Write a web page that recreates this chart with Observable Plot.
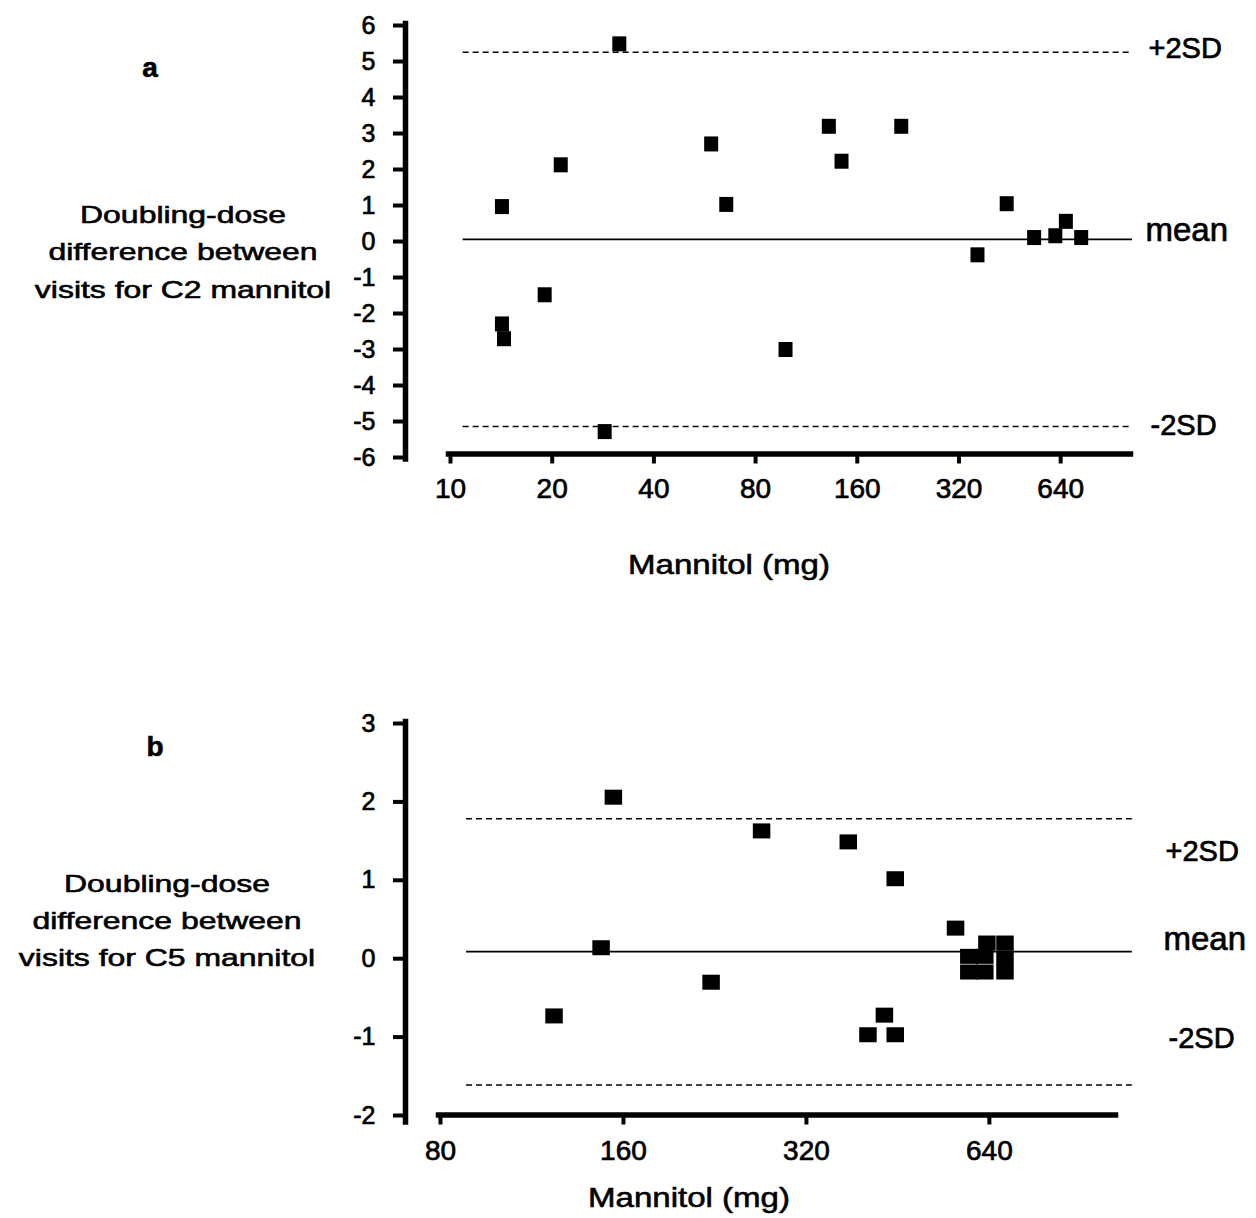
<!DOCTYPE html>
<html>
<head>
<meta charset="utf-8">
<script src="https://cdn.jsdelivr.net/npm/d3@7"></script>
<script src="https://cdn.jsdelivr.net/npm/@observablehq/plot@0.6"></script>
<style>
  body { margin: 0; background: #fff; }
  #root { position: relative; width: 1256px; height: 1218px; overflow: hidden;
          font-family: "Liberation Sans", Arial, sans-serif; color: #000; background: #fff; }
  #root svg { position: absolute; left: 0; }
  #root svg text { stroke: #000; stroke-width: 0.7px; paint-order: stroke; }
  .lbl { position: absolute; white-space: nowrap; line-height: 1; text-align: center; width: 500px;
         -webkit-text-stroke: 0.6px #000; }
</style>
</head>
<body>
<div id="root"></div>
<script>
// ---------- Panel a: C2 mannitol ----------
const c2Dose = [14.2, 21.2, 31.6, 59.1, 65.5, 19.0, 14.2, 14.4, 98.1, 28.6, 131.8, 143.7, 215.9, 363, 443, 534, 617, 663, 736];
const c2Diff = [0.97, 2.13, 5.49, 2.71, 1.03, -1.48, -2.29, -2.70, -3.00, -5.28, 3.20, 2.23, 3.20, -0.37, 1.05, 0.11, 0.16, 0.56, 0.11];
const c2Lines = [5.26, 0.06, -5.14];            // +2SD, mean, -2SD
const c2LineSpan = [10.9, 1044];                // mg extent of the reference lines
const c2XDomain = [10, 1030];
const c2YDomain = [-6, 6];
const c2XTicks = [10, 20, 40, 80, 160, 320, 640];
const c2YTicks = [6, 5, 4, 3, 2, 1, 0, -1, -2, -3, -4, -5, -6];

// ---------- Panel b: C5 mannitol ----------
const c5Dose = [154, 270, 147, 223, 123, 375, 448, 563, 430, 404, 448, 592, 592, 629, 629, 634, 679, 679, 679];
const c5Diff = [2.06, 1.63, 0.14, -0.30, -0.73, 1.49, 1.02, 0.39, -0.72, -0.97, -0.97, -0.17, 0.03, -0.17, 0.03, 0.20, 0.20, 0.01, -0.17];
const c5Lines = [1.785, 0.09, -1.61];           // +2SD, mean, -2SD
const c5LineSpan = [88.3, 1100];
const c5XDomain = [80, 1032];
const c5YDomain = [-2, 3];
const c5XTicks = [80, 160, 320, 640];
const c5YTicks = [3, 2, 1, 0, -1, -2];

const lineLabels = ["+2SD", "mean", "-2SD"];
const panelLetters = ["a", "b"];
const yTitleC2 = ["Doubling-dose", "difference between", "visits for C2 mannitol"];
const yTitleC5 = ["Doubling-dose", "difference between", "visits for C5 mannitol"];
const xTitle = "Mannitol (mg)";

// ---------- drawing ----------
const FONT = '"Liberation Sans", Arial, sans-serif';
const root = document.getElementById("root");
const rectSymbol = (w, h) => ({ draw(ctx) { ctx.rect(-w / 2, -h / 2, w, h); } });
const fmt = d => String(d);

function panel(cfg) {
  const pts = cfg.dose.map((d, i) => ({ dose: d, diff: cfg.diff[i] }));
  const labs = lineLabels.map((t, i) => ({ label: t, y: cfg.lines[i] }));
  const svg = Plot.plot({
    width: 1256, height: cfg.height,
    marginTop: cfg.mt, marginBottom: cfg.mb, marginLeft: 405, marginRight: cfg.mr,
    style: { fontFamily: FONT, color: "#000", background: "transparent", overflow: "visible" },
    x: { type: "log", base: 2, domain: cfg.xDomain, range: cfg.xRange },
    y: { domain: cfg.yDomain, range: cfg.yRange },
    marks: [
      Plot.frame({ anchor: "left", stroke: "#000", strokeWidth: 5.5, insetTop: -2, insetBottom: cfg.ib }),
      Plot.frame({ anchor: "bottom", stroke: "#000", strokeWidth: 5.5, insetLeft: cfg.il }),
      Plot.axisY({ ticks: cfg.yTicks, tickFormat: fmt, tickSize: 12, tickPadding: 18, strokeWidth: 4, fontSize: 25, label: null }),
      Plot.axisX({ ticks: cfg.xTicks, tickFormat: fmt, tickSize: 10, tickPadding: cfg.xpad, strokeWidth: 4, fontSize: 28, label: null }),
      Plot.ruleY([cfg.lines[0], cfg.lines[2]], { x1: cfg.span[0], x2: cfg.span[1], stroke: "#000", strokeWidth: 1.5, strokeDasharray: "6,4" }),
      Plot.ruleY([cfg.lines[1]], { x1: cfg.span[0], x2: cfg.span[1], stroke: "#000", strokeWidth: 1.7 }),
      Plot.dot(pts, { x: "dose", y: "diff", symbol: rectSymbol(cfg.mw, cfg.mh), fill: "#000", stroke: null, r: 7 }),
      ...labs.map((d, i) => Plot.text([d], {
        y: "y", text: "label", frameAnchor: "right", textAnchor: "start",
        dx: cfg.ldx[i], dy: cfg.ldy[i], fontSize: i === 1 ? 33 : 29, fill: "#000"
      }))
    ]
  });
  svg.style.top = cfg.top + "px";
  root.appendChild(svg);
}

panel({
  top: 0, height: 600, mt: 25, mb: 146.5, mr: 126, ib: -5, il: 43, xpad: 14,
  xDomain: c2XDomain, xRange: [450, 1130], yDomain: c2YDomain, yRange: [457, 25],
  xTicks: c2XTicks, yTicks: c2YTicks, lines: c2Lines, span: c2LineSpan,
  dose: c2Dose, diff: c2Diff, mw: 14, mh: 15,
  ldx: [18, 15, 20], ldy: [-3, -8.5, -1]
});
panel({
  top: 600, height: 618, mt: 123, mb: 103.5, mr: 141, ib: -7, il: 33, xpad: 15,
  xDomain: c5XDomain, xRange: [440, 1115], yDomain: c5YDomain, yRange: [515, 123],
  xTicks: c5XTicks, yTicks: c5YTicks, lines: c5Lines, span: c5LineSpan,
  dose: c5Dose, diff: c5Diff, mw: 17.5, mh: 15,
  ldx: [50, 48, 53], ldy: [33, -12, -46]
});

function label(text, cx, baseline, size, sx, weight) {
  const d = document.createElement("div");
  d.className = "lbl";
  d.textContent = text;
  d.style.fontSize = size + "px";
  d.style.fontWeight = weight || "normal";
  d.style.left = (cx - 250) + "px";
  d.style.top = (baseline - 0.8465 * size) + "px";
  d.style.transform = `scaleX(${sx})`;
  root.appendChild(d);
}

label(panelLetters[0], 150, 78, 28, 1, "bold");
label(panelLetters[1], 155, 757, 28, 1, "bold");
yTitleC2.forEach((t, i) => label(t, 183, 223 + i * 37.5, 24, 1.33));
yTitleC5.forEach((t, i) => label(t, 167, 892 + i * 37, 24, 1.33));
label(xTitle, 729, 575, 28, 1.18);
label(xTitle, 689, 1208, 28, 1.18);
</script>
</body>
</html>
